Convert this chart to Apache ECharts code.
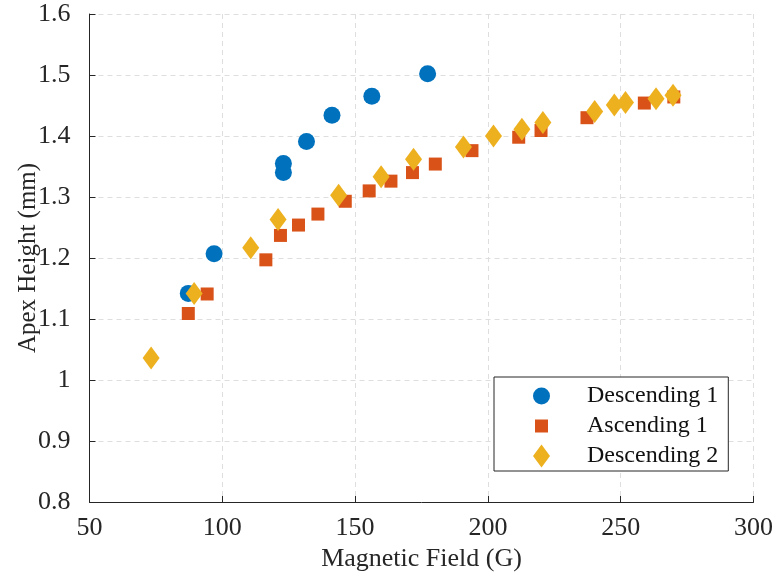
<!DOCTYPE html>
<html>
<head>
<meta charset="utf-8">
<script src="https://cdn.jsdelivr.net/npm/echarts@6/dist/echarts.min.js"></script>
<style>
  html, body { margin: 0; padding: 0; background: #fff; }
  #main { width: 777px; height: 578px; }
</style>
</head>
<body>
<div id="main"></div>
<script>
// 数据：三组测量，x为磁场(G)，y为顶点高度(mm)
const desc1X = [87.2, 96.9, 123.0, 123.0, 131.7, 141.3, 156.3, 177.3];
const desc1Y = [1.142, 1.207, 1.355, 1.340, 1.391, 1.434, 1.465, 1.502];

const asc1X = [87.2, 94.3, 116.4, 121.9, 128.7, 136.0, 146.3, 155.3, 163.5, 171.6, 180.2, 194.0, 211.6, 220.0, 237.3, 258.9, 270.0];
const asc1Y = [1.109, 1.141, 1.197, 1.237, 1.254, 1.272, 1.293, 1.310, 1.326, 1.340, 1.354, 1.376, 1.398, 1.409, 1.430, 1.454, 1.464];

const desc2X = [73.2, 89.4, 110.7, 121.0, 143.8, 159.8, 172.0, 190.8, 202.1, 212.8, 220.7, 240.2, 247.6, 251.8, 263.3, 269.7];
const desc2Y = [1.036, 1.142, 1.217, 1.263, 1.303, 1.333, 1.362, 1.382, 1.400, 1.411, 1.422, 1.440, 1.451, 1.455, 1.461, 1.467];

const seriesNames = ["Descending 1", "Ascending 1", "Descending 2"];

// 坐标轴刻度
const xTicks = [50, 100, 150, 200, 250, 300];
const yTicks = [0.8, 0.9, 1.0, 1.1, 1.2, 1.3, 1.4, 1.5, 1.6];

const FONT = "Liberation Serif, Times New Roman, serif";
const TEXT = "#262626";

function pairs(xs, ys) {
  return xs.map((x, i) => [x, ys[i]]);
}

function renderChart() {
  const myChart = echarts.init(document.querySelector("#main"));
  const gridLine = {
    show: true,
    lineStyle: { color: "#dedede", type: [5, 4], width: 1 },
  };
  const option = {
    animation: false,
    textStyle: { fontFamily: FONT, color: TEXT },
    // 网格区域：固定位置，不因标签自动收缩
    grid: { left: 89.5, right: 23.5, top: 14, bottom: 76, outerBoundsMode: "none" },
    // 图例：图标框17x23，正方形用带空白边的路径，保持13x13
    legend: {
      orient: "vertical",
      left: 494,
      top: 377,
      padding: [4, 10, 0, 39],
      itemGap: 0,
      itemWidth: 17,
      itemHeight: 23,
      backgroundColor: "#fff",
      borderColor: TEXT,
      borderWidth: 1,
      borderRadius: 0,
      textStyle: {
        fontFamily: FONT,
        fontSize: 24,
        color: "#111",
        lineHeight: 30,
        padding: [0, 0, 0, 32],
      },
      data: [
        { name: seriesNames[0], icon: "circle" },
        { name: seriesNames[1], icon: "path://M0,0L0,0M17,23L17,23M2,5h13v13h-13z" },
        { name: seriesNames[2], icon: "diamond" },
      ],
    },
    xAxis: {
      type: "value",
      min: xTicks[0],
      max: xTicks[xTicks.length - 1],
      interval: 50,
      name: "Magnetic Field (G)",
      nameLocation: "middle",
      nameGap: 44,
      nameMoveOverlap: false,
      nameTextStyle: { fontFamily: FONT, fontSize: 26, color: TEXT },
      axisLine: { show: true, lineStyle: { color: TEXT, width: 1 } },
      axisTick: { show: true, inside: true, length: 6, lineStyle: { color: TEXT } },
      axisLabel: { fontFamily: FONT, fontSize: 26, color: TEXT, margin: 13 },
      splitLine: gridLine,
    },
    yAxis: {
      type: "value",
      min: yTicks[0],
      max: yTicks[yTicks.length - 1],
      interval: 0.1,
      name: "Apex Height (mm)",
      nameLocation: "middle",
      nameGap: 49,
      nameMoveOverlap: false,
      nameTextStyle: { fontFamily: FONT, fontSize: 25, color: TEXT },
      axisLine: { show: true, lineStyle: { color: TEXT, width: 1 } },
      axisTick: { show: true, inside: true, length: 6, lineStyle: { color: TEXT } },
      axisLabel: {
        fontFamily: FONT,
        fontSize: 26,
        color: TEXT,
        margin: 19,
        formatter: (v) => String(+v.toFixed(1)),
      },
      splitLine: gridLine,
    },
    series: [
      {
        name: seriesNames[0],
        type: "scatter",
        symbol: "circle",
        symbolSize: 17,
        itemStyle: { color: "#0072BD", opacity: 1 },
        data: pairs(desc1X, desc1Y),
      },
      {
        name: seriesNames[1],
        type: "scatter",
        symbol: "rect",
        symbolSize: 13,
        itemStyle: { color: "#D95319", opacity: 1 },
        data: pairs(asc1X, asc1Y),
      },
      {
        name: seriesNames[2],
        type: "scatter",
        symbol: "diamond",
        symbolSize: [17, 23],
        itemStyle: { color: "#EDB120", opacity: 1 },
        data: pairs(desc2X, desc2Y),
      },
    ],
  };
  myChart.setOption(option);
}

renderChart();
</script>
</body>
</html>
